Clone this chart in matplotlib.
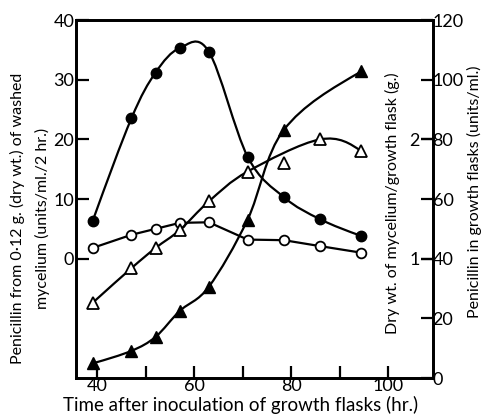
import numpy as np
import matplotlib
matplotlib.use('Agg')
import matplotlib.pyplot as plt
from matplotlib.path import Path
from matplotlib.patches import PathPatch

plt.rcParams['font.family'] = ['Lato', 'DejaVu Sans']

# time after inoculation (hr.)
hours = [39, 47, 52, 57, 63, 71, 78.5, 86, 94.5]
# penicillin from washed mycelium (units/ml./2 hr.) - left axis
washed_filled = [6.3, 23.5, 31.2, 35.3, 34.7, 17.1, 10.3, 6.6, 3.8]
washed_open = [1.8, 4.0, 5.0, 6.0, 6.1, 3.2, 3.1, 2.1, 1.0]
# dry wt. of mycelium / growth flask (g.)
dry_wt = [0.63, 0.92, 1.09, 1.24, 1.48, 1.73, 1.80, 2.0, 1.90]
# penicillin in growth flasks (units/ml.)
hours_flask = [39, 47, 52, 57, 63, 71, 78.5, 94.5]
flask_pen = [4.9, 9.1, 13.8, 22.5, 30.6, 53.1, 83.2, 102.8]


def smooth(ax, xs, ys, **kw):
    # catmull-rom through the points, drawn as bezier path
    p = np.column_stack([xs, ys]).astype(float)
    n = len(p)
    t = np.zeros_like(p)
    t[1:-1] = (p[2:] - p[:-2]) / 2
    t[0] = (3 * (p[1] - p[0]) - t[1]) / 2
    t[-1] = (3 * (p[-1] - p[-2]) - t[-2]) / 2
    verts = [p[0]]
    codes = [Path.MOVETO]
    for i in range(n - 1):
        verts += [p[i] + t[i] / 3, p[i + 1] - t[i + 1] / 3, p[i + 1]]
        codes += [Path.CURVE4] * 3
    ax.add_patch(PathPatch(Path(verts, codes), fill=False, **kw))


fig = plt.figure(figsize=(4.85, 4.17), dpi=100)
ax = fig.add_axes([0.156, 0.0935, 0.736, 0.8585])
ax2 = ax.twinx()
ax3 = ax.twinx()

lw = 1.6
ms = 7.5

smooth(ax, hours, washed_filled, lw=lw, ec='black', zorder=2)
ax.plot(hours, washed_filled, 'o', color='black', ms=ms, zorder=3)
ax.plot(hours, washed_open, '-o', color='black', lw=lw, ms=ms - 0.5,
        mfc='white', mec='black', mew=1.3, zorder=3)

keep = [i for i in range(len(hours)) if i != 6]
smooth(ax3, [hours[i] for i in keep], [dry_wt[i] for i in keep],
       lw=lw, ec='black', zorder=2)
ax3.plot(hours, dry_wt, '^', ms=ms + 0.5, mfc='white', mec='black',
         mew=1.3, zorder=3)

smooth(ax2, hours_flask, flask_pen, lw=lw, ec='black', zorder=2)
ax2.plot(hours_flask, flask_pen, '^', color='black', ms=ms + 0.5, zorder=3)

ax.set_xlim(35.5, 109.2)
ax.set_ylim(-20, 40)
ax2.set_ylim(0, 120)
ax3.set_ylim(0, 3)

ax.set_xticks([40, 60, 80, 100])
ax.set_xticks([50, 70, 90], minor=True)
ax.set_yticks([0, 10, 20, 30, 40])
ax2.set_yticks(range(0, 121, 20))
ax3.set_yticks([1, 2])

fs = 11.5
tfs = 13
ax.tick_params(axis='both', which='both', direction='in', length=9,
               width=1.6, labelsize=tfs, pad=1)
ax.tick_params(axis='x', which='both', top=False, pad=0)
ax2.tick_params(axis='y', direction='in', length=9, width=1.6,
                labelsize=tfs, pad=0)
ax3.tick_params(axis='y', direction='in', length=9, width=1.6,
                labelsize=tfs, pad=-9.5)
for lab in ax3.get_yticklabels():
    lab.set_horizontalalignment('right')

for a in (ax, ax2, ax3):
    for s in a.spines.values():
        s.set_linewidth(1.8)

fig.text(0.037, 0.477, 'Penicillin from 0·12 g. (dry wt.) of washed',
         rotation=90, ha='center', va='center', fontsize=fs)
fig.text(0.087, 0.477, 'mycelium (units/ml./2 hr.)',
         rotation=90, ha='center', va='center', fontsize=fs)
fig.text(0.81, 0.513, 'Dry wt. of mycelium/growth flask (g.)',
         rotation=90, ha='center', va='center', fontsize=fs)
fig.text(0.978, 0.54, 'Penicillin in growth flasks (units/ml.)',
         rotation=90, ha='center', va='center', fontsize=fs)
fig.text(0.497, 0.028, 'Time after inoculation of growth flasks (hr.)',
         ha='center', va='center', fontsize=13.5)

fig.savefig('out.png', dpi=100)
